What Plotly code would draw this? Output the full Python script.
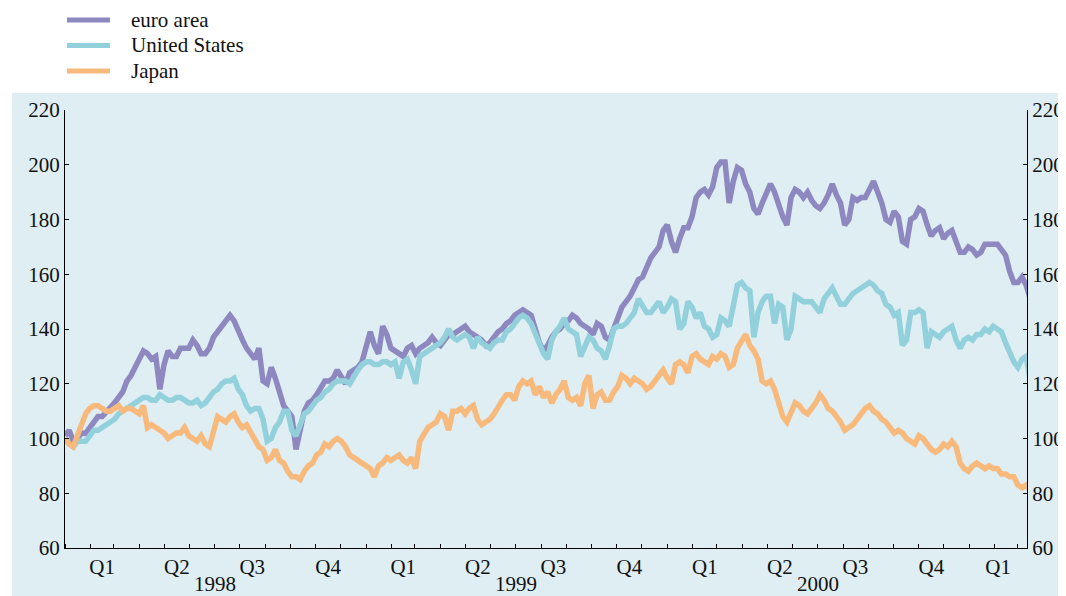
import pandas as pd
import plotly.graph_objects as go

# sampled every 5 days from 1 Jan 1998, index 1 Jan 1998 = 100
start_date = "1998-01-01"
euro_area = [
    101, 103, 99, 100, 102, 101.8, 104, 106, 108, 108, 109.5, 111, 113, 115, 117, 121, 123, 126, 129, 132,
    131, 129, 130, 118, 127, 132, 130, 130, 133, 133, 133, 136, 134, 131, 131, 133, 137, 139, 141, 143,
    145, 143, 139, 136, 133, 131, 129, 133, 121, 120, 126, 122, 117, 112, 110, 108, 96, 104, 110, 113,
    114, 116, 119, 121, 121, 122, 125, 122, 120, 124, 125, 126, 128, 133, 139, 134, 131, 141, 138, 133,
    132, 131, 130, 133, 134, 131, 133, 134, 135, 137, 135, 134, 136, 138, 138, 139, 140, 141, 139, 138,
    137, 136, 134, 135, 137, 139, 140, 142, 143, 145, 146, 147, 146, 145, 140, 135, 132, 134, 137, 139,
    140, 142, 143, 145, 144, 142, 141, 140, 138, 142, 141, 137, 136, 140, 145, 148, 150, 152, 155, 158,
    159, 163, 166, 168, 170, 176, 178, 172, 168, 173, 177, 177, 181, 188, 190, 191, 189, 192, 199, 201,
    201, 186, 194, 199, 198, 193, 190, 184, 182, 186, 189, 193, 190, 185, 181, 178, 188, 191, 190, 188,
    190, 187, 185, 184, 186, 189, 193, 189, 186, 178, 180, 188, 187, 188, 188, 191, 194, 190, 186, 180,
    179, 183, 181, 172, 171, 180, 181, 184, 183, 178, 174, 176, 177, 173, 175, 176, 172, 168, 168, 170,
    169, 167, 168, 171, 171, 171, 171, 169, 167, 161, 157, 157, 159, 156, 151,
]
united_states = [
    100, 98, 97, 99, 99, 99, 101, 103, 103, 104, 105, 106, 107, 109, 110, 111, 112, 113, 114, 115,
    115, 114, 114, 116, 115, 114, 114, 115, 115, 114, 113, 113, 114, 112, 113, 115, 117, 118, 120, 121,
    121, 122, 118, 116, 112, 110, 111, 111, 107, 99, 100, 104, 106, 110, 110, 103, 101, 105, 109, 110,
    112, 114, 115, 117, 118, 120, 121, 121, 121, 120, 123, 125, 127, 128, 128, 127, 127, 128, 128, 127,
    128, 122, 128, 129, 125, 120, 130, 131, 132, 133, 134, 135, 137, 140, 137, 136, 137, 138, 137, 133,
    137, 135, 134, 133, 135, 136, 136, 139, 140, 142, 144, 145, 144, 142, 138, 134, 131, 129, 136, 139,
    141, 144, 140, 139, 138, 130, 134, 137, 136, 133, 132, 129, 134, 140, 141, 141, 142, 144, 146, 151,
    148, 146, 146, 148, 150, 146, 148, 151, 150, 140, 142, 150, 148, 144, 146, 141, 140, 137, 138, 144,
    143, 141, 150, 156, 157, 155, 154, 137, 146, 150, 152, 152, 142, 149, 148, 136, 140, 152, 151, 150,
    150, 150, 148, 146, 151, 153, 155, 152, 149, 149, 151, 153, 154, 155, 156, 157, 156, 154, 153, 149,
    148, 145, 146, 134, 136, 146, 146, 147, 146, 133, 139, 138, 137, 139, 140, 141, 136, 133, 136, 137,
    136, 138, 138, 140, 139, 141, 140, 139, 135, 131, 128, 126, 129, 130, 121,
]
japan = [
    100, 98, 97, 101, 105, 109, 111, 112, 112, 111, 110, 110, 111, 112, 110, 111, 111, 110, 109, 112,
    104, 105, 104, 103, 102, 100, 101, 102, 102, 104, 101, 100, 99, 101, 98, 97, 103, 108, 107, 106,
    108, 109, 106, 104, 105, 102, 100, 97, 96, 92, 93, 96, 92, 91, 88, 86, 86, 85, 88, 90,
    91, 94, 95, 98, 97, 99, 100, 99, 97, 94, 93, 92, 91, 90, 89, 86, 90, 91, 93, 92,
    93, 94, 92, 91, 93, 89, 99, 102, 104, 105, 106, 109, 108, 103, 110, 110, 111, 109, 111, 112,
    107, 105, 106, 107, 109, 112, 114, 116, 116, 114, 119, 121, 120, 121, 116, 119, 115, 117, 113, 116,
    118, 121, 115, 114, 115, 112, 120, 123, 111, 116, 117, 114, 114, 117, 119, 123, 122, 120, 122, 121,
    120, 118, 119, 121, 123, 125, 122, 120, 127, 128, 127, 124, 130, 131, 129, 128, 127, 130, 129, 131,
    130, 126, 127, 133, 136, 138, 134, 132, 129, 121, 120, 121, 118, 112, 108, 106, 109, 113, 112, 110,
    109, 111, 113, 116, 114, 111, 110, 108, 106, 103, 104, 105, 107, 109, 111, 112, 110, 109, 107, 106,
    104, 102, 103, 102, 100, 99, 98, 101, 100, 98, 96, 95, 96, 98, 97, 99, 97, 91, 89, 88,
    90, 91, 90, 89, 90, 89, 89, 87, 87, 86, 86, 83, 82, 83, 81,
]

series_names = ["euro area", "United States", "Japan"]
series_colors = ["#8d88bf", "#92d1dc", "#f7b97c"]

quarter_labels = ["Q1", "Q2", "Q3", "Q4"] * 3 + ["Q1"]
year_labels = ["1998", "1999", "2000"]
y_ticks = [60, 80, 100, 120, 140, 160, 180, 200, 220]

dates = pd.date_range(start_date, periods=len(euro_area), freq="5D")
x_end = pd.Timestamp("2001-03-12")

month_starts = pd.date_range("1998-01-01", "2001-03-01", freq="MS")
quarter_starts = pd.date_range("1998-01-01", "2001-01-01", freq="QS")
year_starts = pd.date_range("1998-01-01", "2001-01-01", freq="YS")
quarter_mids = [q + (min(q + pd.DateOffset(months=3), x_end) - q) / 2 for q in quarter_starts]
year_mids = [pd.Timestamp(f"{y}-07-02") for y in year_labels]

BG = "#dfeef3"
FONT = "Liberation Serif"
OFF = 8  # page body margin
W, H = 1066 - OFF, 596 - OFF
ML, MR, MT, MB = 65 - OFF, 39, 110 - OFF, 48
PW, PH = W - ML - MR, H - MT - MB


def px_x(px):
    # screen pixel -> paper coordinate
    return (px - OFF - ML) / PW


def px_y(py):
    return (H - MB - (py - OFF)) / PH


fig = go.Figure()
for name, vals, col in zip(series_names, [euro_area, united_states, japan], series_colors):
    fig.add_trace(go.Scatter(x=dates, y=vals, name=name, mode="lines",
                             line=dict(color=col, width=5.5), showlegend=False))

# mirrored y axis on the right
fig.add_trace(go.Scatter(x=[dates[0]], y=[100], yaxis="y2", showlegend=False,
                         mode="lines", line=dict(width=0), hoverinfo="skip"))

fig.update_layout(
    width=W, height=H,
    margin=dict(l=ML, r=MR, t=MT, b=MB, autoexpand=False),
    paper_bgcolor="white",
    plot_bgcolor=BG,
    font=dict(family=FONT, size=21, color="#111"),
    showlegend=False,
    xaxis=dict(
        type="date", range=[dates[0], x_end],
        tickmode="array", tickvals=quarter_mids, ticktext=quarter_labels,
        ticks="", showgrid=False, zeroline=False,
        showline=True, linecolor="black", linewidth=1,
        minor=dict(tickmode="array", tickvals=list(month_starts), ticks="inside",
                   ticklen=4, tickcolor="black", showgrid=False),
    ),
    xaxis2=dict(
        type="date", range=[dates[0], x_end], overlaying="x", anchor="y", side="bottom",
        tickmode="array", tickvals=list(quarter_starts), ticks="inside", ticklen=8,
        tickcolor="black", showticklabels=False, showgrid=False, zeroline=False,
    ),
    xaxis3=dict(
        type="date", range=[dates[0], x_end], overlaying="x", anchor="y", side="bottom",
        tickmode="array", tickvals=list(year_starts), ticks="inside", ticklen=14,
        tickcolor="black", showticklabels=False, showgrid=False, zeroline=False,
    ),
    yaxis=dict(
        range=[60, 220], tickvals=y_ticks, ticks="inside", ticklen=4, tickcolor="black",
        showgrid=False, zeroline=False, showline=True, linecolor="black", linewidth=1,
    ),
    yaxis2=dict(
        range=[60, 220], tickvals=y_ticks, ticks="inside", ticklen=4, tickcolor="black",
        overlaying="y", side="right", anchor="x",
        showgrid=False, zeroline=False, showline=True, linecolor="black", linewidth=1,
    ),
)

# light blue panel behind the chart
fig.add_shape(type="rect", xref="paper", yref="paper",
              x0=px_x(12), x1=px_x(1070), y0=px_y(600), y1=px_y(93),
              fillcolor=BG, line=dict(width=0), layer="below")

# legend drawn by hand so the spacing matches
for k, (name, col) in enumerate(zip(series_names, series_colors)):
    ly = 20 + k * 25.5
    fig.add_shape(type="line", xref="paper", yref="paper",
                  x0=px_x(67), x1=px_x(110), y0=px_y(ly), y1=px_y(ly),
                  line=dict(color=col, width=5))
    fig.add_annotation(x=px_x(129), y=px_y(ly), xref="paper", yref="paper",
                       text=name, showarrow=False, xanchor="left", yanchor="middle",
                       font=dict(family=FONT, size=21, color="#111"))

for yr, xm in zip(year_labels, year_mids):
    fig.add_annotation(x=xm, y=px_y(584), xref="x", yref="paper", text=yr,
                       showarrow=False, yanchor="middle",
                       font=dict(family=FONT, size=21, color="#111"))

fig.write_html("out.html")
